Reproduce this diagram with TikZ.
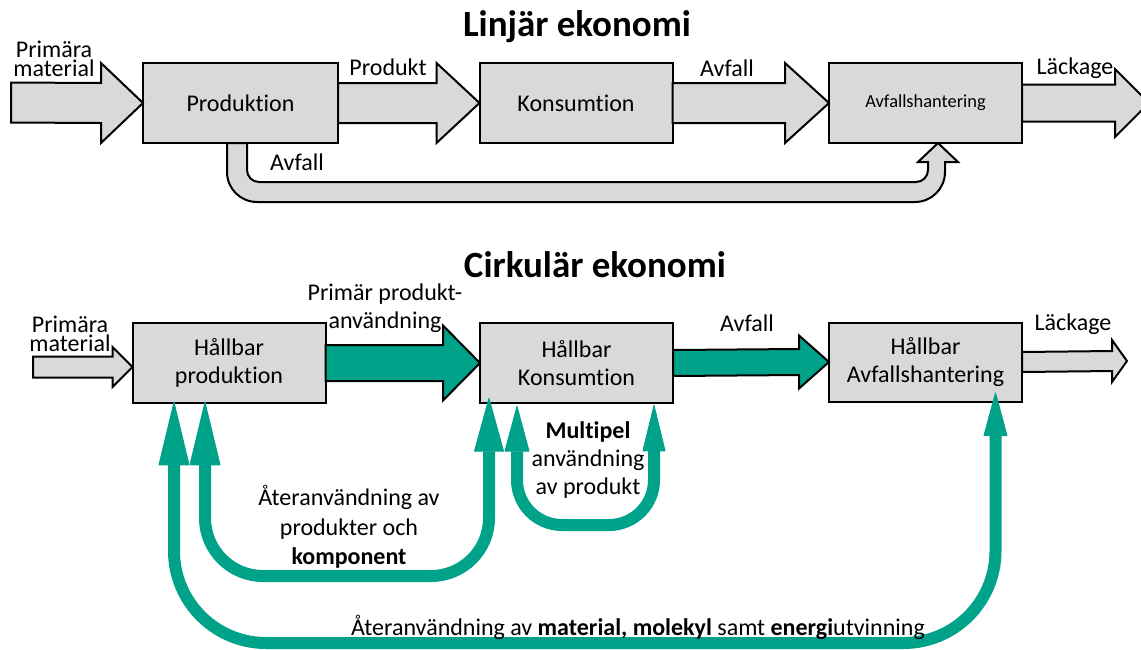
\documentclass[tikz,border=0pt]{standalone}
\usepackage{fontspec}
\setmainfont{Carlito}[Ligatures=NoCommon]
\usetikzlibrary{calc,arrows.meta}
\definecolor{boxgray}{HTML}{D9D9D9}
\definecolor{cegreen}{HTML}{00A38A}
% #1 style, #2 start, #3 tip, #4 half body, #5 half head, #6 head length
\newcommand{\blockarr}[6]{%
  \draw[#1] ($(#2)+(0,-#4)$) -- ($(#3)+(-#6,-#4)$) -- ($(#3)+(-#6,-#5)$) -- (#3)
    -- ($(#3)+(-#6,#5)$) -- ($(#3)+(-#6,#4)$) -- ($(#2)+(0,#4)$) -- cycle;}
\begin{document}
\begin{tikzpicture}[x=1pt,y=-1pt,
  box/.style={draw=black,line width=2pt,fill=boxgray,minimum width=193pt,minimum height=80pt,
    align=center,inner sep=0pt,outer sep=0pt,font=\fontsize{24}{28}\selectfont},
  lbl/.style={align=center,inner sep=0pt,font=\fontsize{24}{28}\selectfont},
  tight/.style={align=center,inner sep=0pt,font=\fontsize{24}{18.5}\selectfont},
  titlelbl/.style={inner sep=0pt,font=\fontsize{37}{40}\selectfont\bfseries},
  grayarr/.style={draw=black,line width=2pt,fill=boxgray},
  greenarr/.style={draw=black,line width=2pt,fill=cegreen},
  loopline/.style={draw=cegreen,line width=12pt}]
\useasboundingbox (0,0) rectangle (1141,649);
\clip (0,0) rectangle (1141,649);

% ---------------- Linear economy ----------------
\node[titlelbl] (t1) at (577,27) {Linjär ekonomi};
\node[box,minimum width=195pt] (prod) at (240.5,103) {Produktion};
\node[box] (kons) at (576,103) {Konsumtion};
\node[box,font=\fontsize{18.4}{20}\selectfont] (avh) at (925.5,103) {Avfallshantering};

\coordinate (pm1) at (11,102.5);
\blockarr{grayarr}{pm1}{prod.west}{20}{40}{42}
\blockarr{grayarr}{prod.east}{kons.west}{20}{40}{43}
\blockarr{grayarr}{kons.east}{avh.west}{20}{40}{44}
\coordinate (lk1) at (1149,103);
\blockarr{grayarr}{avh.east}{lk1}{18.5}{34}{34}

% U-shaped waste arrow
\coordinate (ua) at ($(prod.south)+(-13.5,0)$);
\coordinate (ub) at ($(avh.south)+(12.5,0)$);
\draw[grayarr] (ua) -- ($(ua)+(0,29)$) arc[start angle=180,end angle=270,radius=30pt]
  -- ($(ub)+(-23,59)$) arc[start angle=270,end angle=360,radius=30pt]
  -- ($(ub)+(7,19)$) -- ($(ub)+(20,19)$) -- (ub) -- ($(ub)+(-20,19)$) -- ($(ub)+(-10,19)$)
  -- ($(ub)+(-10,27)$) arc[start angle=0,end angle=-90,radius=12pt]
  -- ($(ua)+(32,39)$) arc[start angle=270,end angle=180,radius=12pt]
  -- ($(ua)+(20,0)$) -- cycle;

\node[tight] (pmt1) at (54,59) {Primära\\material};
\node[lbl] (prodt) at (388,67) {Produkt};
\node[lbl] (avft1) at (727,68) {Avfall};
\node[lbl] (lkt1) at (1075,68) {Läckage};
\node[lbl] (avft2) at (297,162) {Avfall};

% ---------------- Circular economy ----------------
\node[titlelbl] (t2) at (595,265) {Cirkulär ekonomi};
\node[box] (hprod) at (229,363) {Hållbar\\produktion};
\node[box] (hkons) at (576.5,363) {Hållbar\\Konsumtion};
\node[box,minimum height=79pt] (havh) at (925.5,362) {Hållbar\\Avfallshantering};

\coordinate (pm2) at (33,367);
\coordinate (pm2e) at ($(hprod.west)+(0,4)$);
\blockarr{grayarr}{pm2}{pm2e}{10.5}{20}{20}
\blockarr{greenarr}{hprod.east}{hkons.west}{18}{37.5}{37}
\blockarr{greenarr}{hkons.east}{havh.west}{13}{26.5}{30}
\coordinate (lk2) at (1127,361);
\blockarr{grayarr}{havh.east}{lk2}{10}{21}{15}

\node[tight] (pmt2) at (70,334) {Primära\\material};
\node[lbl] (ppt) at (385,308) {Primär produkt-\\användning};
\node[lbl] (avft3) at (747,323) {Avfall};
\node[lbl] (lkt2) at (1073,324) {Läckage};

% loops
\coordinate (o1) at ($(hprod.south)+(-55,-1)$);
\coordinate (k1) at ($(hprod.south)+(-24,-1)$);
\coordinate (k2) at ($(hkons.south)+(-87.5,-5)$);
\coordinate (m1) at ($(hkons.south)+(-59.5,3)$);
\coordinate (m2) at ($(hkons.south)+(77.5,2)$);
\coordinate (o2) at ($(havh.south)+(70,-9)$);
\coordinate (obot) at (0,643);
\coordinate (kbot) at (0,576);
\coordinate (mbot) at (0,525);

\draw[loopline,rounded corners=92pt,
  {Triangle[length=65pt,width=31pt,line width=1pt,round]}-{Triangle[length=45pt,width=24pt,line width=1pt,round]}]
  (o1) -- (o1 |- obot) -- (o2 |- obot) -- (o2);
\draw[loopline,rounded corners=58pt,
  {Triangle[length=65pt,width=31pt,line width=1pt,round]}-{Triangle[length=55pt,width=30pt,line width=1pt,round]}]
  (k1) -- (k1 |- kbot) -- (k2 |- kbot) -- (k2);
\draw[loopline,rounded corners=45pt,
  {Triangle[length=47pt,width=25pt,line width=1pt,round]}-{Triangle[length=48pt,width=23pt,line width=1pt,round]}]
  (m1) -- (m1 |- mbot) -- (m2 |- mbot) -- (m2);

\node[lbl] (mult) at (588,460) {\textbf{Multipel}\\användning\\av produkt};
\node[lbl,font=\fontsize{24}{29.5}\selectfont] (aterk) at (349,527) {Återanvändning av\\produkter och\\\textbf{komponent}};
\node[lbl] (aterm) at (638,627) {Återanvändning av \textbf{material, molekyl} samt \textbf{energi}utvinning};
\end{tikzpicture}
\end{document}
